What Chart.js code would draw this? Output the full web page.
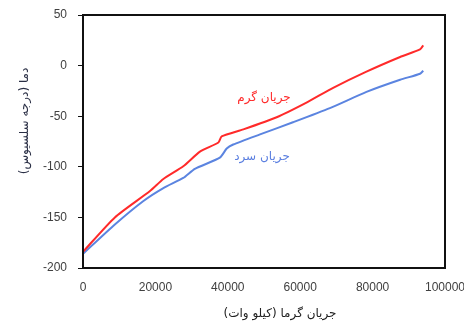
<!DOCTYPE html>
<html>
<head>
<meta charset="utf-8">
<script src="https://cdn.jsdelivr.net/npm/chart.js@4/dist/chart.umd.min.js"></script>
<style>
  html, body { margin: 0; padding: 0; background: #fff; }
  #wrap { width: 464px; height: 322px; }
</style>
</head>
<body>
<div id="wrap"><canvas id="chart" width="464" height="322"></canvas></div>
<script>
// hot stream (red)
var hotX = [0, 8800, 18500, 22200, 27700, 32300, 37400, 38300, 44300, 53500, 62000, 69100, 78300, 87600, 93100, 94000];
var hotY = [-184, -150, -124, -112, -99.5, -85, -76, -70, -63, -51, -36, -22, -6, 8.5, 16, 20];
// cold stream (blue)
var coldX = [0, 8800, 16600, 22200, 27700, 30900, 37800, 39700, 41500, 48900, 58000, 68200, 78300, 87600, 93100, 94000];
var coldY = [-186, -157, -134, -121, -111, -102, -91, -82, -78, -68, -56, -42, -26, -14, -8, -5];

var hotLabel = 'جریان گرم';
var coldLabel = 'جریان سرد';
var xTitle = 'جریان گرما (کیلو وات)';
var yTitle = 'دما (درجه سلسیوس)';

function pts(xs, ys) {
    return xs.map(function (x, i) { return { x: x, y: ys[i] }; });
}

var labelsPlugin = {
    id: 'labels',
    afterDraw: function (chart) {
        var ctx = chart.ctx;
        var a = chart.chartArea;
        ctx.save();
        // frame around plot area
        ctx.strokeStyle = '#111';
        ctx.lineWidth = 2;
        ctx.strokeRect(a.left, a.top, a.right - a.left, a.bottom - a.top);

        ctx.font = '12px "DejaVu Sans", sans-serif';
        ctx.textAlign = 'center';
        ctx.textBaseline = 'middle';
        ctx.fillStyle = '#ff2a2a';
        ctx.fillText(hotLabel, 264, 98);
        ctx.fillStyle = '#5b7fe0';
        ctx.fillText(coldLabel, 262, 157);

        ctx.fillStyle = '#222';
        ctx.fillText(xTitle, 280, 314);
        ctx.translate(25, 121);
        ctx.rotate(-Math.PI / 2);
        ctx.fillStyle = '#2a2f45';
        ctx.fillText(yTitle, 0, 0);
        ctx.restore();
    }
};

new Chart(document.getElementById('chart'), {
    type: 'scatter',
    data: {
        datasets: [{
            label: hotLabel,
            data: pts(hotX, hotY),
            showLine: true,
            borderColor: '#ff2a2a',
            borderWidth: 2,
            pointRadius: 0,
            tension: 0.2
        }, {
            label: coldLabel,
            data: pts(coldX, coldY),
            showLine: true,
            borderColor: '#5b84e0',
            borderWidth: 2,
            pointRadius: 0,
            tension: 0.2
        }]
    },
    options: {
        responsive: false,
        animation: false,
        layout: { padding: { top: 15, right: 19, left: 0, bottom: 0 } },
        plugins: {
            legend: { display: false },
            tooltip: { enabled: false }
        },
        scales: {
            x: {
                type: 'linear',
                min: 0,
                max: 100000,
                ticks: {
                    stepSize: 20000,
                    maxRotation: 0,
                    padding: 12,
                    color: '#404040',
                    font: { family: 'Liberation Sans', size: 12 },
                    callback: function (v) { return String(v); }
                },
                grid: { drawOnChartArea: false, drawTicks: false },
                border: { color: '#111', width: 2 },
                afterFit: function (s) {
                    s.height = 322 - 268;
                    s.paddingRight = 0;
                    s.paddingLeft = 0;
                }
            },
            y: {
                min: -200,
                max: 50,
                ticks: {
                    stepSize: 50,
                    padding: 11,
                    color: '#404040',
                    font: { family: 'Liberation Sans', size: 12 }
                },
                grid: { drawOnChartArea: false, drawTicks: true, tickLength: 5, color: '#111' },
                border: { color: '#111', width: 2 },
                afterFit: function (s) {
                    s.width = 83;
                    s.paddingTop = 0;
                    s.paddingBottom = 0;
                }
            }
        }
    },
    plugins: [labelsPlugin]
});
</script>
</body>
</html>
